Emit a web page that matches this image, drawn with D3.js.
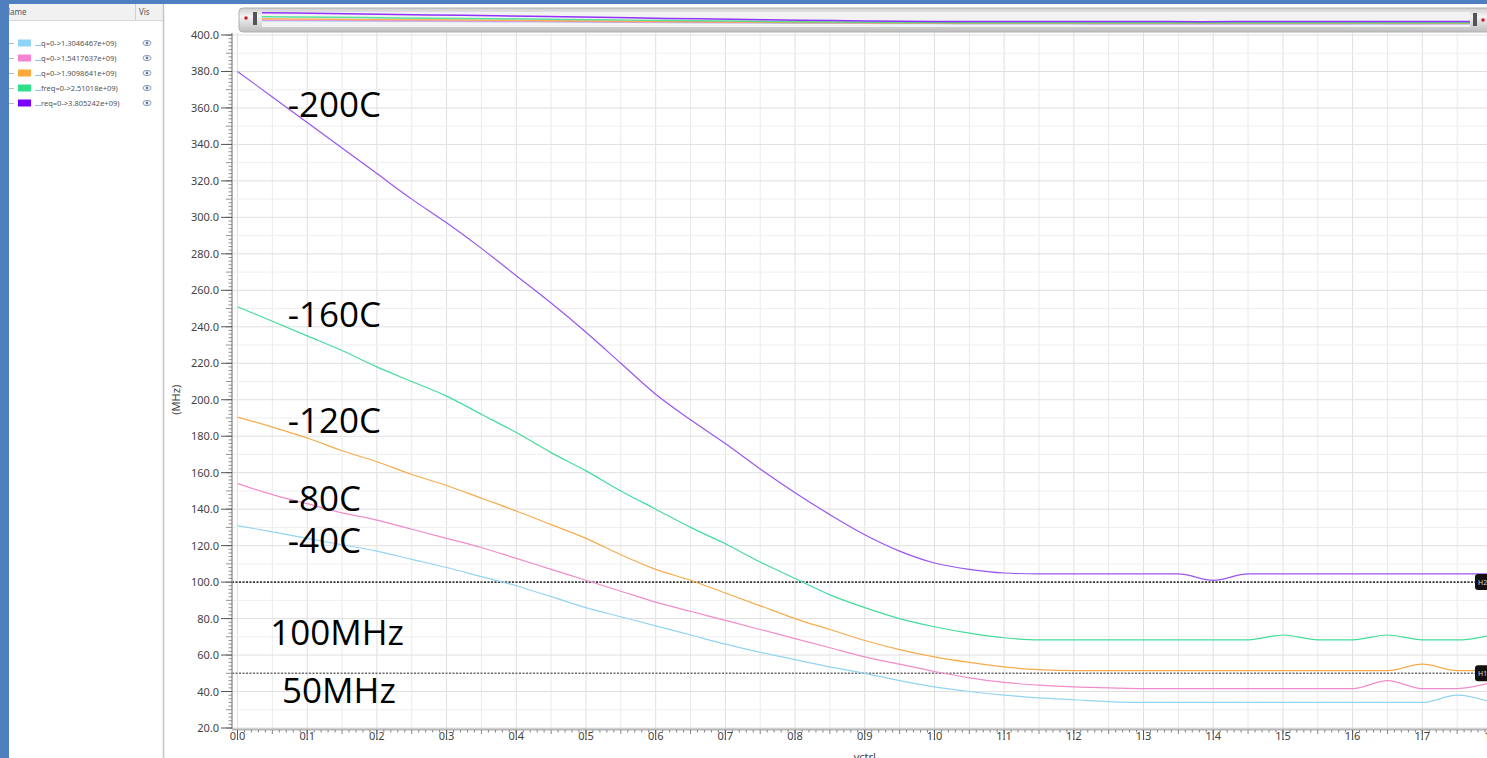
<!DOCTYPE html>
<html>
<head>
<meta charset="utf-8">
<script src="https://cdn.jsdelivr.net/npm/d3@7/dist/d3.min.js"></script>
<style>
  html, body { margin: 0; padding: 0; background: #fff; overflow: hidden; }
  svg { display: block; font-family: 'Noto Sans', 'Open Sans', sans-serif; }
</style>
</head>
<body>
<div id="chart"></div>
<script>
// ////////////////////////////////////////////////////////////////////////////
// DATA - frequency (MHz) vs vctrl, one array per temperature corner
// ////////////////////////////////////////////////////////////////////////////
const vctrl = [0.00, 0.05, 0.10, 0.15, 0.20, 0.25, 0.30, 0.35, 0.40, 0.45,
  0.50, 0.55, 0.60, 0.65, 0.70, 0.75, 0.80, 0.85, 0.90, 0.95,
  1.00, 1.05, 1.10, 1.15, 1.20, 1.25, 1.30, 1.35, 1.40, 1.45,
  1.50, 1.55, 1.60, 1.65, 1.70, 1.75, 1.80];

const freqM40 = [131, 127.5, 124, 120.5, 117, 112.5, 108, 103, 98, 92,
  86, 81, 76, 71, 66, 61.5, 57.5, 53.5, 50, 46,
  42.5, 40, 38, 36.5, 35.5, 34.5, 34, 34, 34, 34,
  34, 34, 34, 34, 34, 38, 34];

const freqM80 = [154, 148, 143, 138, 134, 129, 124, 119, 113, 107,
  101, 95, 89, 84, 79, 74, 69, 64, 59, 55,
  51, 47.5, 45, 43.5, 42.5, 42, 41.6, 41.6, 41.6, 41.6,
  41.6, 41.6, 41.6, 46, 41.6, 41.6, 45];

const freqM120 = [190.5, 185, 179, 172, 166, 159, 153, 146, 139, 131.5,
  124, 115, 107, 101, 94, 87, 80, 74, 68, 63,
  59, 56, 53.5, 52, 51.5, 51.5, 51.5, 51.5, 51.5, 51.5,
  51.5, 51.5, 51.5, 51.5, 55, 51.5, 51.5];

const freqM160 = [251, 243, 235, 227, 218, 210, 202, 192, 182, 171,
  161, 150, 140, 130, 121, 111, 102, 93, 86, 80,
  75.5, 72, 69.5, 68.3, 68.3, 68.3, 68.3, 68.3, 68.3, 68.3,
  71, 68.3, 68.3, 71, 68.3, 68.3, 71];

const freqM200 = [380, 366, 352, 338, 324, 310, 297, 283, 268, 253,
  237, 220, 203, 189, 176, 162, 149, 137, 126, 117,
  110.5, 107, 105, 104.5, 104.5, 104.5, 104.5, 104.5, 101, 104.5,
  104.5, 104.5, 104.5, 104.5, 104.5, 104.5, 104.5];

const seriesNames = ['...q=0->1.3046467e+09)', '...q=0->1.5417637e+09)', '...q=0->1.9098641e+09)',
  '...freq=0->2.51018e+09)', '...req=0->3.805242e+09)'];
const seriesValues = [freqM40, freqM80, freqM120, freqM160, freqM200];
const lineColors = ['#93d4f2', '#f08ccb', '#f6ac4c', '#44dc9c', '#9b55ee'];
const swatchColors = ['#8fd3f8', '#f382d0', '#ffa83c', '#2fe08a', '#7b00ff'];

const markerValues = [100, 50];
const markerNames = ['H2', 'H1'];

const tempLabels = ['-200C', '-160C', '-120C', '-80C', '-40C', '100MHz', '50MHz'];

const xTicks = [0.0, 0.1, 0.2, 0.3, 0.4, 0.5, 0.6, 0.7, 0.8, 0.9, 1.0, 1.1, 1.2, 1.3, 1.4, 1.5, 1.6, 1.7, 1.8];
const yTicks = [20, 40, 60, 80, 100, 120, 140, 160, 180, 200, 220, 240, 260, 280, 300, 320, 340, 360, 380, 400];

// ////////////////////////////////////////////////////////////////////////////
// SETUP
// ////////////////////////////////////////////////////////////////////////////
const W = 1487;
const H = 758;
const blue = '#4f7fbe';

const svg = d3.select('#chart').append('svg')
  .attr('width', W)
  .attr('height', H);

const x = d3.scaleLinear().domain([0, 1.8]).range([237.5, 1492]);
const y = d3.scaleLinear().domain([20, 400]).range([728, 35]);

const plot = { left: 232, top: 33, right: W, bottom: 729 };

svg.append('rect').attr('width', W).attr('height', H).attr('fill', '#fff');

const defs = svg.append('defs');
defs.append('clipPath').attr('id', 'plotclip')
  .append('rect')
    .attr('x', plot.left)
    .attr('y', plot.top)
    .attr('width', plot.right - plot.left)
    .attr('height', plot.bottom - plot.top);

const barGrad = defs.append('linearGradient').attr('id', 'bargrad')
  .attr('x1', 0).attr('x2', 0).attr('y1', 0).attr('y2', 1);
barGrad.append('stop').attr('offset', '0%').attr('stop-color', '#cfcfcf');
barGrad.append('stop').attr('offset', '35%').attr('stop-color', '#f4f4f4');
barGrad.append('stop').attr('offset', '100%').attr('stop-color', '#bdbdbd');

// ////////////////////////////////////////////////////////////////////////////
// GRID
// ////////////////////////////////////////////////////////////////////////////
const grid = svg.append('g').attr('clip-path', 'url(#plotclip)');

grid.selectAll('.vgrid')
  .data(d3.range(0, 37).map(i => i * 0.05))
  .enter().append('line')
    .attr('x1', d => x(d)).attr('x2', d => x(d))
    .attr('y1', plot.top).attr('y2', plot.bottom)
    .attr('stroke', (d, i) => (i % 2 === 0 ? '#e0e0e0' : '#eaeaea'))
    .attr('stroke-width', 1);

grid.selectAll('.hgrid')
  .data(d3.range(20, 401, 10))
  .enter().append('line')
    .attr('x1', plot.left).attr('x2', plot.right)
    .attr('y1', d => y(d)).attr('y2', d => y(d))
    .attr('stroke', d => (d % 20 === 0 ? '#e0e0e0' : '#efefef'))
    .attr('stroke-width', 1);

// ////////////////////////////////////////////////////////////////////////////
// CURVES
// ////////////////////////////////////////////////////////////////////////////
const line = d3.line()
  .x(d => x(d[0]))
  .y(d => y(d[1]))
  .curve(d3.curveMonotoneX);

const curves = svg.append('g').attr('clip-path', 'url(#plotclip)');

// marker lines
curves.selectAll('.marker')
  .data(markerValues)
  .enter().append('line')
    .attr('x1', plot.left).attr('x2', plot.right)
    .attr('y1', d => y(d)).attr('y2', d => y(d))
    .attr('stroke', (d, i) => (i === 0 ? '#3a3a3a' : '#6e6e6e'))
    .attr('stroke-width', 1.6)
    .attr('stroke-dasharray', '2,1.5');

curves.selectAll('.curve')
  .data(seriesValues)
  .enter().append('path')
    .attr('d', vals => line(vctrl.map((v, i) => [v, vals[i]])))
    .attr('fill', 'none')
    .attr('stroke', (d, i) => lineColors[i])
    .attr('stroke-width', 1.2);

// marker badges
const badges = svg.selectAll('.badge')
  .data(markerValues)
  .enter().append('g')
    .attr('transform', d => `translate(1475, ${y(d) - 8})`);
badges.append('rect')
  .attr('width', 20).attr('height', 16).attr('rx', 3)
  .attr('fill', '#111');
badges.append('text')
  .attr('x', 3).attr('y', 11)
  .attr('fill', '#ddd')
  .style('font-size', '7px')
  .text((d, i) => markerNames[i]);

// ////////////////////////////////////////////////////////////////////////////
// AXES
// ////////////////////////////////////////////////////////////////////////////
// y axis
const yAxis = svg.append('g');
yAxis.append('line')
  .attr('x1', plot.left).attr('x2', plot.left)
  .attr('y1', plot.top).attr('y2', plot.bottom)
  .attr('stroke', '#9a9a9a').attr('stroke-width', 1.5);

yAxis.selectAll('.yminor')
  .data(d3.range(20, 401, 2))
  .enter().append('line')
    .attr('x1', d => (d % 10 === 0 ? plot.left - 6 : plot.left - 3.5))
    .attr('x2', plot.left)
    .attr('y1', d => y(d)).attr('y2', d => y(d))
    .attr('stroke', '#777').attr('stroke-width', 0.8);

yAxis.selectAll('.ymajor')
  .data(yTicks)
  .enter().append('line')
    .attr('x1', plot.left - 11).attr('x2', plot.left)
    .attr('y1', d => y(d)).attr('y2', d => y(d))
    .attr('stroke', '#555').attr('stroke-width', 1);

yAxis.selectAll('.ylabel')
  .data(yTicks)
  .enter().append('text')
    .attr('x', plot.left - 13)
    .attr('y', d => y(d) + 4)
    .attr('text-anchor', 'end')
    .attr('fill', '#444')
    .style('font-size', '11px')
    .text(d => d.toFixed(1));

svg.append('text')
  .attr('transform', `translate(180, ${(y(220) + y(180)) / 2}) rotate(-90)`)
  .attr('text-anchor', 'middle')
  .attr('fill', '#444')
  .style('font-size', '11px')
  .text('(MHz)');

// x axis
const xAxis = svg.append('g');
xAxis.append('line')
  .attr('x1', plot.left).attr('x2', plot.right)
  .attr('y1', plot.bottom + 0.5).attr('y2', plot.bottom + 0.5)
  .attr('stroke', '#b5b5b5').attr('stroke-width', 2);

xAxis.selectAll('.xminor')
  .data(d3.range(0, 181).map(i => i / 100))
  .enter().append('line')
    .attr('x1', d => x(d)).attr('x2', d => x(d))
    .attr('y1', plot.bottom + 1)
    .attr('y2', (d, i) => plot.bottom + (i % 5 === 0 ? 5 : 3.5))
    .attr('stroke', '#666').attr('stroke-width', 0.8);

xAxis.selectAll('.xlabel')
  .data(xTicks)
  .enter().append('text')
    .attr('x', d => x(d))
    .attr('y', plot.bottom + 11)
    .attr('text-anchor', 'middle')
    .attr('fill', '#444')
    .style('font-size', '11px')
    .text(d => d.toFixed(1));

xAxis.selectAll('.xmajor')
  .data(xTicks)
  .enter().append('line')
    .attr('x1', d => x(d)).attr('x2', d => x(d))
    .attr('y1', plot.bottom + 1).attr('y2', plot.bottom + 11)
    .attr('stroke', '#555').attr('stroke-width', 1);

svg.append('text')
  .attr('x', x(0.9))
  .attr('y', 761)
  .attr('text-anchor', 'middle')
  .attr('fill', '#444')
  .style('font-size', '11px')
  .text('vctrl');

// ////////////////////////////////////////////////////////////////////////////
// ANNOTATIONS
// ////////////////////////////////////////////////////////////////////////////
const labelAnchors = [[0.072, 355], [0.072, 240], [0.072, 181.8], [0.072, 139], [0.072, 116], [0.047, 65.5], [0.064, 33.7]];
svg.selectAll('.temp-label')
  .data(tempLabels)
  .enter().append('text')
    .attr('x', (d, i) => x(labelAnchors[i][0]))
    .attr('y', (d, i) => y(labelAnchors[i][1]))
    .attr('fill', '#000')
    .style('font-family', "'Open Sans', sans-serif")
    .style('font-size', '35px')
    .text(d => d);

// ////////////////////////////////////////////////////////////////////////////
// OVERVIEW STRIP (top)
// ////////////////////////////////////////////////////////////////////////////
const ov = svg.append('g');
ov.append('rect')
  .attr('x', 239).attr('y', 8).attr('width', W - 239 + 5).attr('height', 24).attr('rx', 4)
  .attr('fill', 'url(#bargrad)').attr('stroke', '#b0b0b0');
ov.append('rect')
  .attr('x', 262).attr('y', 12).attr('width', 1208).attr('height', 15)
  .attr('fill', '#f2f2f2');

const ox = d3.scaleLinear().domain([0, 1.8]).range([262, 1470]);
const oy = d3.scaleLinear().domain([0, 400]).range([25, 12]);
const ovLine = d3.line().x(d => ox(d[0])).y(d => oy(d[1]));
ov.selectAll('.ovcurve')
  .data(seriesValues)
  .enter().append('path')
    .attr('d', vals => ovLine(vctrl.map((v, i) => [v, vals[i]])))
    .attr('fill', 'none')
    .attr('stroke', (d, i) => swatchColors[i])
    .attr('stroke-width', 1.5)
    .attr('opacity', 0.8);

ov.append('circle').attr('cx', 246).attr('cy', 18).attr('r', 1.8).attr('fill', '#d0202a');
ov.append('circle').attr('cx', 1483).attr('cy', 20).attr('r', 1.8).attr('fill', '#d0202a');
ov.append('rect').attr('x', 253).attr('y', 12).attr('width', 4).attr('height', 13).attr('fill', '#555');
ov.append('rect').attr('x', 1473).attr('y', 13).attr('width', 4).attr('height', 13).attr('fill', '#555');

// ////////////////////////////////////////////////////////////////////////////
// LEFT PANEL + FRAME
// ////////////////////////////////////////////////////////////////////////////
const panel = svg.append('g');
panel.append('rect').attr('x', 9).attr('y', 4).attr('width', 154).attr('height', H).attr('fill', '#fff');
panel.append('rect').attr('x', 9).attr('y', 4).attr('width', 154).attr('height', 16).attr('fill', '#f1f1f1');
panel.append('line').attr('x1', 9).attr('x2', 163).attr('y1', 20.5).attr('y2', 20.5).attr('stroke', '#d8d8d8');
panel.append('line').attr('x1', 135.5).attr('x2', 135.5).attr('y1', 4).attr('y2', 20).attr('stroke', '#d0d0d0');
panel.append('line').attr('x1', 163.5).attr('x2', 163.5).attr('y1', 4).attr('y2', H).attr('stroke', '#c4c4c4').attr('stroke-width', 1.5);
panel.append('text').attr('x', 4).attr('y', 15).attr('fill', '#555').style('font-size', '8px').text('Name');
panel.append('text').attr('x', 139).attr('y', 15).attr('fill', '#555').style('font-size', '8px').text('Vis');

const rows = panel.selectAll('.legend-row')
  .data(seriesNames)
  .enter().append('g')
    .attr('transform', (d, i) => `translate(0, ${43 + i * 15})`);
rows.append('line').attr('x1', 9).attr('x2', 14).attr('y1', 0.5).attr('y2', 0.5).attr('stroke', '#bbb');
rows.append('rect').attr('x', 18).attr('y', -3.5).attr('width', 13).attr('height', 7)
  .attr('fill', (d, i) => swatchColors[i]);
rows.append('text').attr('x', 35).attr('y', 3).attr('fill', '#555')
  .style('font-size', '7.5px').text(d => d);
rows.append('ellipse').attr('cx', 147).attr('cy', 0).attr('rx', 4).attr('ry', 2.6)
  .attr('fill', 'none').attr('stroke', '#8a9ab8').attr('stroke-width', 1);
rows.append('circle').attr('cx', 147).attr('cy', 0).attr('r', 1.4)
  .attr('fill', '#6a7ca0');

svg.append('rect').attr('x', 0).attr('y', 0).attr('width', 9).attr('height', H).attr('fill', blue);
svg.append('rect').attr('x', 0).attr('y', 0).attr('width', W).attr('height', 4).attr('fill', blue);
</script>
</body>
</html>
